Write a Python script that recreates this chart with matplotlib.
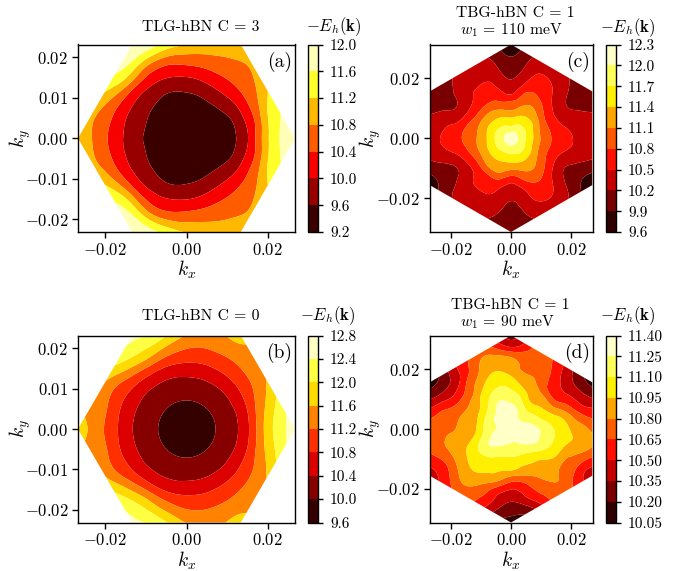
import numpy as np
import matplotlib
matplotlib.use('Agg')
import matplotlib.pyplot as plt
import matplotlib.tri as mtri
from matplotlib.patches import Polygon

plt.rcParams['font.family'] = 'serif'
plt.rcParams['font.serif'] = ['cmr10']
plt.rcParams['mathtext.fontset'] = 'cm'
plt.rcParams['axes.formatter.use_mathtext'] = True
plt.rcParams['axes.unicode_minus'] = False
plt.rcParams['axes.linewidth'] = 1.0

W, H = 693, 571

# values read along rays from the zone centre: one row per angle, one column per radius
radii_tlg = [0, .005, .009, .012, .015, .018, .021, .024, .028]
radii_tbg = [0, .003, .006, .009, .012, .015, .018, .021, .024, .027, .032]

# TLG panels are mirror symmetric, rows are 0..180 deg in 15 deg steps
energy_a = [
    [9.22, 9.32, 9.45, 9.58, 9.97, 10.66, 11.35, 11.68, 11.85],
    [9.22, 9.32, 9.45, 9.59, 10.00, 10.56, 11.25, 11.60, 11.80],
    [9.22, 9.32, 9.46, 9.65, 10.04, 10.49, 10.92, 11.30, 11.50],
    [9.22, 9.33, 9.48, 9.74, 10.09, 10.44, 10.68, 10.87, 11.00],
    [9.22, 9.33, 9.49, 9.76, 10.10, 10.44, 10.70, 10.87, 11.05],
    [9.22, 9.33, 9.47, 9.71, 10.05, 10.43, 10.77, 10.98, 11.10],
    [9.22, 9.32, 9.46, 9.66, 9.99, 10.40, 10.85, 11.30, 11.50],
    [9.22, 9.31, 9.44, 9.61, 9.94, 10.31, 10.88, 11.55, 11.82],
    [9.22, 9.31, 9.44, 9.61, 9.92, 10.35, 11.00, 11.70, 11.92],
    [9.22, 9.32, 9.46, 9.65, 9.93, 10.44, 11.20, 11.68, 11.85],
    [9.22, 9.33, 9.48, 9.68, 9.94, 10.35, 10.88, 11.32, 11.50],
    [9.22, 9.33, 9.49, 9.71, 9.94, 10.28, 10.62, 10.90, 11.10],
    [9.22, 9.33, 9.49, 9.69, 9.94, 10.25, 10.57, 10.87, 11.15],
]
energy_b = [
    [9.65, 9.85, 10.13, 10.34, 10.72, 11.38, 11.96, 12.36, 12.55],
    [9.65, 9.85, 10.13, 10.34, 10.69, 11.27, 11.76, 12.20, 12.55],
    [9.65, 9.85, 10.13, 10.34, 10.67, 11.08, 11.42, 11.72, 11.90],
    [9.65, 9.85, 10.13, 10.33, 10.64, 11.00, 11.28, 11.42, 11.60],
    [9.65, 9.85, 10.13, 10.33, 10.64, 10.97, 11.27, 11.55, 11.78],
    [9.65, 9.85, 10.13, 10.33, 10.63, 10.96, 11.25, 11.48, 11.75],
    [9.65, 9.85, 10.13, 10.33, 10.63, 11.00, 11.33, 11.68, 12.00],
    [9.65, 9.85, 10.13, 10.32, 10.62, 11.10, 11.62, 12.15, 12.50],
    [9.65, 9.85, 10.13, 10.32, 10.62, 11.20, 11.82, 12.25, 12.65],
    [9.65, 9.85, 10.13, 10.30, 10.60, 11.07, 11.65, 12.14, 12.55],
    [9.65, 9.85, 10.13, 10.30, 10.58, 10.92, 11.29, 11.68, 12.00],
    [9.65, 9.85, 10.13, 10.30, 10.58, 10.92, 11.28, 11.45, 11.70],
    [9.65, 9.85, 10.13, 10.30, 10.58, 10.93, 11.28, 11.57, 11.85],
]

# TBG panels, rows are 0..345 deg in 15 deg steps
energy_c = [
    [12.25, 11.91, 11.58, 11.20, 10.90, 10.72, 10.59, 10.49, 10.43, 10.38, 10.33],
    [12.25, 11.91, 11.61, 11.21, 10.88, 10.66, 10.48, 10.41, 10.34, 10.28, 10.17],
    [12.25, 11.92, 11.65, 11.33, 10.93, 10.61, 10.39, 10.22, 10.13, 10.06, 9.94],
    [12.25, 11.92, 11.65, 11.38, 11.08, 10.79, 10.57, 10.43, 10.32, 10.22, 10.10],
    [12.25, 11.92, 11.63, 11.36, 11.15, 10.92, 10.74, 10.61, 10.48, 10.29, 10.15],
    [12.25, 11.87, 11.56, 11.25, 11.00, 10.80, 10.58, 10.43, 10.33, 10.23, 10.05],
    [12.25, 11.82, 11.50, 11.13, 10.85, 10.46, 10.27, 10.13, 10.02, 9.91, 9.72],
    [12.25, 11.85, 11.53, 11.20, 10.86, 10.63, 10.47, 10.39, 10.31, 10.22, 10.05],
    [12.25, 11.89, 11.58, 11.28, 10.98, 10.72, 10.60, 10.48, 10.39, 10.30, 10.20],
    [12.25, 11.92, 11.61, 11.33, 11.02, 10.69, 10.50, 10.41, 10.31, 10.22, 10.10],
    [12.25, 11.92, 11.65, 11.35, 11.04, 10.69, 10.41, 10.20, 10.13, 10.06, 9.94],
    [12.25, 11.93, 11.65, 11.33, 11.06, 10.84, 10.57, 10.44, 10.35, 10.26, 10.12],
    [12.25, 11.93, 11.64, 11.30, 11.06, 10.86, 10.74, 10.60, 10.49, 10.41, 10.35],
    [12.25, 11.93, 11.65, 11.33, 11.06, 10.80, 10.58, 10.43, 10.33, 10.24, 10.08],
    [12.25, 11.93, 11.66, 11.35, 11.03, 10.66, 10.39, 10.17, 10.07, 9.97, 9.72],
    [12.25, 11.92, 11.64, 11.37, 11.09, 10.67, 10.49, 10.41, 10.31, 10.23, 10.10],
    [12.25, 11.92, 11.62, 11.37, 11.14, 10.73, 10.59, 10.47, 10.39, 10.30, 10.20],
    [12.25, 11.92, 11.62, 11.33, 11.07, 10.70, 10.50, 10.41, 10.32, 10.22, 10.05],
    [12.25, 11.92, 11.63, 11.30, 10.89, 10.50, 10.35, 10.20, 10.13, 10.05, 9.92],
    [12.25, 11.93, 11.65, 11.33, 11.00, 10.72, 10.50, 10.41, 10.32, 10.22, 10.05],
    [12.25, 11.94, 11.68, 11.36, 11.14, 10.91, 10.75, 10.62, 10.49, 10.31, 10.20],
    [12.25, 11.93, 11.66, 11.33, 11.08, 10.84, 10.59, 10.43, 10.32, 10.21, 10.05],
    [12.25, 11.92, 11.63, 11.25, 10.92, 10.65, 10.37, 10.17, 10.05, 9.92, 9.70],
    [12.25, 11.91, 11.57, 11.19, 10.88, 10.67, 10.50, 10.41, 10.32, 10.22, 10.10],
]
energy_d = [
    [11.35, 11.32, 11.29, 11.26, 11.17, 11.08, 11.00, 10.91, 10.85, 10.77, 10.72],
    [11.35, 11.31, 11.27, 11.18, 11.08, 10.99, 10.89, 10.74, 10.60, 10.51, 10.42],
    [11.35, 11.30, 11.20, 11.11, 10.99, 10.84, 10.66, 10.55, 10.44, 10.32, 10.10],
    [11.35, 11.29, 11.17, 11.06, 10.93, 10.83, 10.63, 10.55, 10.48, 10.41, 10.28],
    [11.35, 11.30, 11.21, 11.09, 10.94, 10.86, 10.78, 10.74, 10.70, 10.66, 10.55],
    [11.35, 11.32, 11.27, 11.19, 11.07, 10.93, 10.83, 10.77, 10.73, 10.68, 10.55],
    [11.35, 11.32, 11.28, 11.24, 11.14, 11.05, 10.94, 10.87, 10.80, 10.54, 10.30],
    [11.35, 11.33, 11.30, 11.27, 11.19, 11.09, 11.00, 10.93, 10.86, 10.74, 10.50],
    [11.35, 11.33, 11.29, 11.26, 11.16, 11.04, 10.93, 10.82, 10.74, 10.68, 10.60],
    [11.35, 11.31, 11.27, 11.19, 11.04, 10.93, 10.78, 10.66, 10.50, 10.43, 10.30],
    [11.35, 11.30, 11.26, 11.14, 10.96, 10.84, 10.72, 10.57, 10.42, 10.29, 10.08],
    [11.35, 11.31, 11.23, 11.12, 10.93, 10.85, 10.78, 10.71, 10.64, 10.52, 10.40],
    [11.35, 11.30, 11.23, 11.12, 10.93, 10.87, 10.81, 10.78, 10.75, 10.72, 10.68],
    [11.35, 11.31, 11.26, 11.16, 11.01, 10.92, 10.88, 10.83, 10.77, 10.70, 10.58],
    [11.35, 11.33, 11.28, 11.24, 11.13, 11.02, 10.92, 10.82, 10.68, 10.56, 10.42],
    [11.35, 11.33, 11.28, 11.23, 11.12, 11.04, 10.97, 10.89, 10.80, 10.69, 10.52],
    [11.35, 11.31, 11.26, 11.16, 11.07, 11.00, 10.92, 10.82, 10.74, 10.69, 10.55],
    [11.35, 11.30, 11.23, 11.12, 11.03, 10.94, 10.81, 10.61, 10.53, 10.45, 10.30],
    [11.35, 11.29, 11.21, 11.11, 11.04, 10.87, 10.63, 10.47, 10.36, 10.27, 10.10],
    [11.35, 11.29, 11.21, 11.11, 10.99, 10.86, 10.69, 10.59, 10.51, 10.36, 10.20],
    [11.35, 11.30, 11.24, 11.12, 10.99, 10.90, 10.82, 10.76, 10.71, 10.67, 10.55],
    [11.35, 11.31, 11.27, 11.19, 11.04, 10.94, 10.88, 10.82, 10.78, 10.71, 10.60],
    [11.35, 11.33, 11.29, 11.26, 11.16, 11.04, 10.93, 10.79, 10.71, 10.57, 10.42],
    [11.35, 11.33, 11.30, 11.27, 11.19, 11.09, 10.99, 10.92, 10.87, 10.79, 10.62],
]

levels_a = [9.2, 9.6, 10.0, 10.4, 10.8, 11.2, 11.6, 12.0]
levels_b = [9.6, 10.0, 10.4, 10.8, 11.2, 11.6, 12.0, 12.4, 12.8]
levels_c = [9.6, 9.9, 10.2, 10.5, 10.8, 11.1, 11.4, 11.7, 12.0, 12.3]
levels_d = [10.05, 10.2, 10.35, 10.5, 10.65, 10.8, 10.95, 11.1, 11.25, 11.4]

ticks_tlg = [-0.02, -0.01, 0.0, 0.01, 0.02]
ticks_tbg = [-0.02, 0.0, 0.02]
xticks = [-0.02, 0.0, 0.02]


def place(left, right, top, bottom):
    return [left / W, 1 - bottom / H, (right - left) / W, (bottom - top) / H]


def panel(box, cbox, radii, rows, levels, fmt, xlim, ylim, yticks, tag, ylab_x, mirror):
    ax = fig.add_axes(place(*box))
    Z = np.array(rows)
    if mirror:
        Z = np.vstack([Z, Z[-2:0:-1]])
    t = np.radians(np.arange(Z.shape[0]) * 15.0)
    r = np.array(radii)[1:]
    px = np.concatenate([[0.0], np.outer(np.cos(t), r).ravel()])
    py = np.concatenate([[0.0], np.outer(np.sin(t), r).ravel()])
    pz = np.concatenate([[Z[0, 0]], Z[:, 1:].ravel()])
    # matplotlib's own cubic refinement so the bands come out smooth
    tri = mtri.Triangulation(px, py)
    fine_tri, fine_z = mtri.UniformTriRefiner(tri).refine_field(pz, subdiv=3)
    fine_z = np.clip(fine_z, levels[0], levels[-1])
    cs = ax.tricontourf(fine_tri, fine_z, levels=levels, cmap='hot', antialiased=True)
    # first Brillouin zone outline, flat top for TLG and pointy top for TBG
    if xlim > ylim:
        a = np.radians(np.arange(0, 360, 60))
        hexa = np.column_stack([xlim * np.cos(a), xlim * np.sin(a)])
    else:
        a = np.radians(np.arange(30, 390, 60))
        hexa = np.column_stack([ylim * np.cos(a), ylim * np.sin(a)])
    clip = Polygon(hexa, transform=ax.transData, fill=False, edgecolor='none')
    ax.add_patch(clip)
    cs.set_clip_path(clip)
    ax.set_xlim(-xlim, xlim)
    ax.set_ylim(-ylim, ylim)
    ax.set_xticks(xticks)
    ax.set_yticks(yticks)
    ax.set_xticklabels(['$-0.02$', '$0.00$', '$0.02$'])
    ax.set_yticklabels(['$%s$' % ('%.2f' % v) for v in yticks])
    ax.tick_params(labelsize=12, length=4, width=1, pad=3)
    ax.set_xlabel('$k_x$', fontsize=14, labelpad=1)
    ax.set_ylabel('$k_y$', fontsize=14)
    ax.yaxis.set_label_coords(ylab_x, 0.5)
    ax.text(0.985, 0.88, tag, transform=ax.transAxes, fontsize=14, ha='right')

    cax = fig.add_axes(place(*cbox))
    cb = fig.colorbar(cs, cax=cax, ticks=levels, format=fmt)
    cb.ax.tick_params(labelsize=11, direction='out', length=3.6, width=1, pad=5)
    cb.outline.set_linewidth(1.0)
    return ax


fig = plt.figure(figsize=(W / 100, H / 100), dpi=100)

panel((78, 295, 44.5, 232), (308, 318, 44.5, 232), radii_tlg, energy_a, levels_a, '%.1f',
      0.0267, 0.0231, ticks_tlg, '(a)', -0.207, True)
panel((78, 295, 335.5, 522.5), (308, 318, 335.5, 522.5), radii_tlg, energy_b, levels_b, '%.1f',
      0.0267, 0.0231, ticks_tlg, '(b)', -0.207, True)
panel((429.5, 592.5, 44.5, 232), (606, 616, 44.5, 232), radii_tbg, energy_c, levels_c, '%.1f',
      0.0272, 0.0313, ticks_tbg, '(c)', -0.285, False)
panel((429.5, 592.5, 335.5, 522.5), (606, 616, 335.5, 522.5), radii_tbg, energy_d, levels_d, '%.2f',
      0.0272, 0.0313, ticks_tbg, '(d)', -0.285, False)


def label(x, y, s, size=11.3, ha='center'):
    fig.text(x / W, 1 - y / H, s, fontsize=size, ha=ha, va='baseline')


label(201, 31, 'TLG-hBN C = 3')
label(201, 320, 'TLG-hBN C = 0')
label(515, 17, 'TBG-hBN C = 1')
label(511, 34, '$w_1$ = 110 meV')
label(510, 309, 'TBG-hBN C = 1')
label(507, 326, '$w_1$ = 90 meV')
label(306, 31, r'$-E_h(\mathbf{k})$', size=12, ha='left')
label(300, 320, r'$-E_h(\mathbf{k})$', size=12, ha='left')
label(600, 32, r'$-E_h(\mathbf{k})$', size=12, ha='left')
label(600, 320, r'$-E_h(\mathbf{k})$', size=12, ha='left')

plt.savefig('out.png', dpi=100)
